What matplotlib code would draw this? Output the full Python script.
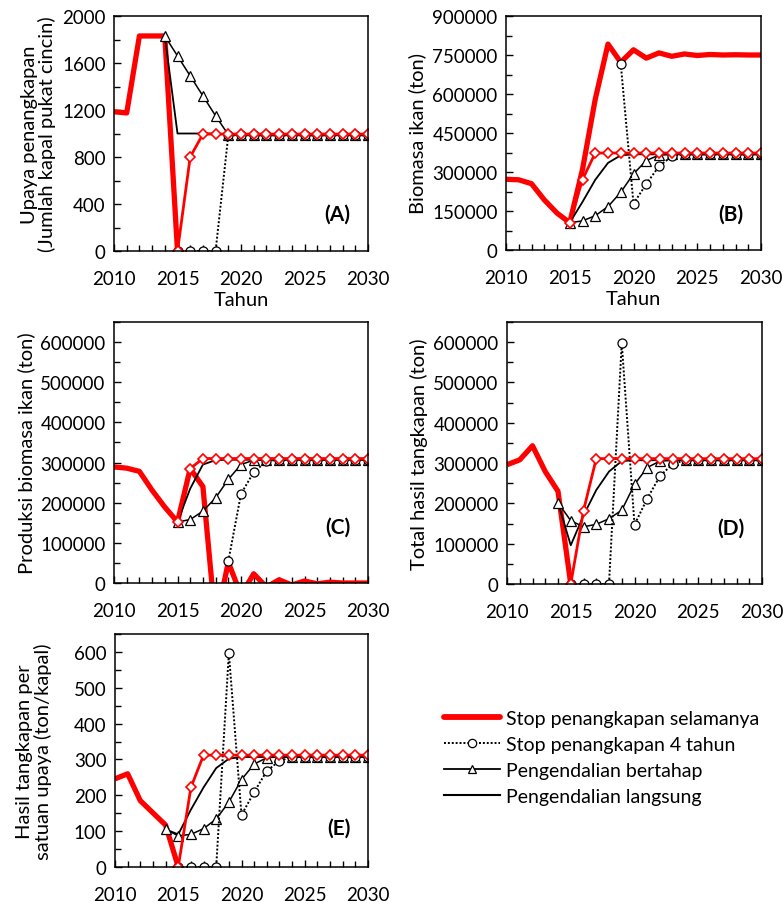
import numpy as np
import matplotlib
matplotlib.use("Agg")
from matplotlib import pyplot as plt
from matplotlib.lines import Line2D
from matplotlib.ticker import MultipleLocator

plt.rcParams['font.family'] = ['Lato', 'DejaVu Sans']
plt.rcParams['font.size'] = 13.5


#%% data
# start year of each series, values are yearly
# (A) Upaya penangkapan
a_selamanya_start = 2010
a_selamanya = [1185, 1175, 1830, 1830, 1830, 0]
a_merah_start = 2015
a_merah = [0, 800, 995, 995, 995, 995, 995, 995, 995, 995, 995, 995, 995, 995, 995, 995]
a_stop4_start = 2015
a_stop4 = [0, 0, 0, 0, 985, 985, 985, 985, 985, 985, 985, 985, 985, 985, 985, 985]
a_bertahap_start = 2014
a_bertahap = [1830, 1660, 1490, 1320, 1150, 990, 985, 985, 985, 985, 985, 985, 985, 985, 985, 985, 985]
a_langsung_start = 2014
a_langsung = [1830, 1000, 1000, 1000, 1000, 990, 985, 985, 985, 985, 985, 985, 985, 985, 985, 985, 985]

# (B) Biomasa ikan
b_selamanya_start = 2010
b_selamanya = [272000, 270000, 255000, 193000, 142000, 105000, 310000, 580000, 792000, 722000,
               770000, 738000, 758000, 745000, 754000, 748000, 752000, 750000, 751000, 750000, 750000]
b_merah_start = 2015
b_merah = [105000, 271000, 373000, 373000, 373000, 373000, 373000, 373000, 373000, 373000,
           373000, 373000, 373000, 373000, 373000, 373000]
b_stop4_start = 2019
b_stop4 = [716000, 178000, 254000, 322000, 360000, 368000, 368000, 368000, 368000, 368000,
           368000, 368000]
b_bertahap_start = 2015
b_bertahap = [105000, 112000, 132000, 167000, 222000, 293000, 344000, 365000, 368000, 368000,
              368000, 368000, 368000, 368000, 368000, 368000]
b_langsung_start = 2015
b_langsung = [105000, 185000, 270000, 335000, 364000, 368000, 368000, 368000, 368000, 368000,
              368000, 368000, 368000, 368000, 368000, 368000]

# (C) Produksi biomasa ikan
c_selamanya_start = 2010
c_selamanya = [289000, 286000, 278000, 231000, 189000, 152000, 285000, 240000, -100000, 52000,
               -30000, 23000, -10000, 8000, -5000, 5000, -2000, 2000, 0, 0, 0]
c_merah_start = 2015
c_merah = [152000, 285000, 310000, 310000, 310000, 310000, 310000, 310000, 310000, 310000,
           310000, 310000, 310000, 310000, 310000, 310000]
c_stop4_start = 2019
c_stop4 = [54000, 222000, 276000, 303000, 307000, 307000, 307000, 307000, 307000, 307000,
           307000, 307000]
c_bertahap_start = 2015
c_bertahap = [152000, 158000, 179000, 212000, 258000, 295000, 306000, 307000, 307000, 307000,
              307000, 307000, 307000, 307000, 307000, 307000]
c_langsung_start = 2015
c_langsung = [152000, 235000, 295000, 306000, 307000, 307000, 307000, 307000, 307000, 307000,
              307000, 307000, 307000, 307000, 307000, 307000]

# (D) Total hasil tangkapan
d_selamanya_start = 2010
d_selamanya = [296000, 308000, 343000, 279000, 230000, 0]
d_merah_start = 2015
d_merah = [0, 182000, 311000, 311000, 311000, 311000, 311000, 311000, 311000, 311000,
           311000, 311000, 311000, 311000, 311000, 311000]
d_stop4_start = 2015
d_stop4 = [0, 0, 0, 0, 598000, 147000, 212000, 268000, 298000, 307000, 307000, 307000,
           307000, 307000, 307000, 307000]
d_bertahap_start = 2014
d_bertahap = [202000, 157000, 142000, 148000, 162000, 183000, 247000, 289000, 305000, 307000,
              307000, 307000, 307000, 307000, 307000, 307000, 307000]
d_langsung_start = 2014
d_langsung = [202000, 96000, 170000, 233000, 279000, 305000, 307000, 307000, 307000, 307000,
              307000, 307000, 307000, 307000, 307000, 307000, 307000]

# (E) Hasil tangkapan per satuan upaya
e_selamanya_start = 2010
e_selamanya = [246, 260, 185, 151, 117, 0]
e_merah_start = 2015
e_merah = [0, 222, 312, 312, 312, 312, 312, 312, 312, 312, 312, 312, 312, 312, 312, 312]
e_stop4_start = 2015
e_stop4 = [0, 0, 0, 0, 597, 145, 209, 268, 296, 307, 307, 307, 307, 307, 307, 307]
e_bertahap_start = 2014
e_bertahap = [105, 87, 91, 107, 134, 181, 244, 287, 305, 307, 307, 307, 307, 307, 307, 307, 307]
e_langsung_start = 2014
e_langsung = [105, 91, 160, 222, 276, 302, 307, 307, 307, 307, 307, 307, 307, 307, 307, 307, 307]

legend_labels = ['Stop penangkapan selamanya', 'Stop penangkapan 4 tahun',
                 'Pengendalian bertahap', 'Pengendalian langsung']

RED = '#ff0000'

style_selamanya = dict(color=RED, lw=3.8, solid_capstyle='butt', zorder=2)
style_langsung = dict(color='black', lw=1.3, zorder=3)
style_bertahap = dict(color='black', lw=1.1, marker='^', ms=6.5, mfc='white', mec='black',
                      mew=0.9, zorder=4)
style_stop4 = dict(color='black', lw=1.4, ls=(0, (1, 1)), marker='o', ms=6.5, mfc='white',
                   mec='black', mew=0.9, zorder=5)
style_merah = dict(color=RED, lw=2.0, marker='D', ms=5.5, mfc='white', mec=RED, mew=1.2,
                   zorder=6)


def yrs(start, vals):
    return np.arange(start, start + len(vals))


def draw_panel(rect, data, ymax, ystep, yminor, ylabel, letter, letter_y, xlabel=None,
               ylabel_x=None):
    ax = fig.add_axes(rect)
    sel, mer, st4, bth, lgs = data
    ax.plot(yrs(*sel), sel[1], **style_selamanya)
    ax.plot(yrs(*lgs), lgs[1], **style_langsung)
    ax.plot(yrs(*bth), bth[1], **style_bertahap)
    ax.plot(yrs(*st4), st4[1], **style_stop4)
    ax.plot(yrs(*mer), mer[1], **style_merah)

    ax.set_xlim(2010, 2030)
    ax.set_ylim(0, ymax)
    ax.xaxis.set_major_locator(MultipleLocator(5))
    ax.xaxis.set_minor_locator(MultipleLocator(1))
    ax.yaxis.set_major_locator(MultipleLocator(ystep))
    ax.yaxis.set_minor_locator(MultipleLocator(yminor))
    ax.tick_params(which='both', direction='in', width=1.0, colors='black')
    ax.tick_params(which='major', length=5)
    ax.tick_params(which='minor', length=4)
    ax.tick_params(axis='x', which='major', pad=13.5)
    ax.tick_params(axis='y', which='major', pad=6)
    for sp in ax.spines.values():
        sp.set_linewidth(1.1)
        sp.set_color('black')
        sp.set_zorder(7)
    ax.set_ylabel(ylabel, labelpad=4, linespacing=1.05, fontsize=14.5)
    if ylabel_x is not None:
        ax.yaxis.set_label_coords(ylabel_x, 0.5)
    if xlabel:
        ax.set_xlabel(xlabel, labelpad=3, fontsize=14.5)
    ax.text(0.93, letter_y, letter, transform=ax.transAxes, ha='right', va='center',
            fontsize=15, fontweight='bold')
    return ax


W, H = 784, 903
fig = plt.figure(figsize=(W / 100, H / 100), dpi=100)


def px_rect(left, top, right, bottom):
    return [left / W, (H - bottom) / H, (right - left) / W, (bottom - top) / H]


draw_panel(px_rect(114, 17, 368, 252),
           [(a_selamanya_start, a_selamanya), (a_merah_start, a_merah),
            (a_stop4_start, a_stop4), (a_bertahap_start, a_bertahap),
            (a_langsung_start, a_langsung)],
           2000, 400, 200, 'Upaya penangkapan\n(Jumlah kapal pukat cincin)', '(A)', 0.157, 'Tahun')
draw_panel(px_rect(506, 17, 761, 251),
           [(b_selamanya_start, b_selamanya), (b_merah_start, b_merah),
            (b_stop4_start, b_stop4), (b_bertahap_start, b_bertahap),
            (b_langsung_start, b_langsung)],
           900000, 150000, 75000, 'Biomasa ikan (ton)', '(B)', 0.157, 'Tahun')
draw_panel(px_rect(114, 323, 368, 584),
           [(c_selamanya_start, c_selamanya), (c_merah_start, c_merah),
            (c_stop4_start, c_stop4), (c_bertahap_start, c_bertahap),
            (c_langsung_start, c_langsung)],
           650000, 100000, 50000, 'Produksi biomasa ikan (ton)', '(C)', 0.215)
draw_panel(px_rect(507, 323, 762, 585),
           [(d_selamanya_start, d_selamanya), (d_merah_start, d_merah),
            (d_stop4_start, d_stop4), (d_bertahap_start, d_bertahap),
            (d_langsung_start, d_langsung)],
           650000, 100000, 50000, 'Total hasil tangkapan (ton)', '(D)', 0.215)
draw_panel(px_rect(115, 635, 368, 868),
           [(e_selamanya_start, e_selamanya), (e_merah_start, e_merah),
            (e_stop4_start, e_stop4), (e_bertahap_start, e_bertahap),
            (e_langsung_start, e_langsung)],
           650, 100, 50, 'Hasil tangkapan per\nsatuan upaya (ton/kapal)', '(E)', 0.167,
           ylabel_x=-0.25)

handles = [
    Line2D([], [], color=RED, lw=4.2, solid_capstyle='round'),
    Line2D([], [], color='black', lw=1.4, ls=(0, (1, 1)), marker='o', ms=6, mfc='white',
           mec='black', mew=0.9),
    Line2D([], [], color='black', lw=1.3, marker='^', ms=6, mfc='white', mec='black', mew=0.9),
    Line2D([], [], color='black', lw=1.5),
]
fig.legend(handles, legend_labels, loc='upper left', bbox_to_anchor=(444 / W, 1 - 711 / H),
           frameon=False, fontsize=14, handlelength=2.9, handletextpad=0.3,
           labelspacing=0.46, borderaxespad=0, borderpad=0)

fig.savefig('out.png', dpi=100)
